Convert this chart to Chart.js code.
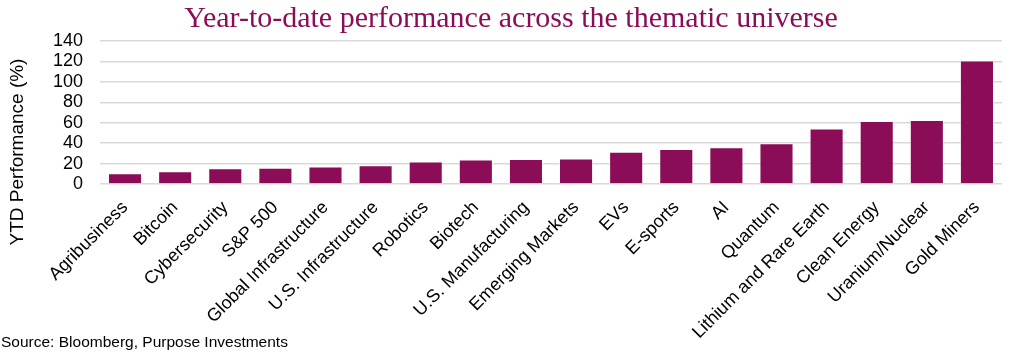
<!DOCTYPE html>
<html>
<head>
<meta charset="utf-8">
<script src="https://cdn.jsdelivr.net/npm/chart.js@4"></script>
<style>
  html, body { margin: 0; padding: 0; background: #fff; }
  #wrap { width: 1024px; height: 364px; position: relative; }
</style>
</head>
<body>
<div id="wrap"><canvas id="myChart"></canvas></div>
<script>
  // Data
  const categories = [
    'Agribusiness', 'Bitcoin', 'Cybersecurity', 'S&P 500', 'Global Infrastructure',
    'U.S. Infrastructure', 'Robotics', 'Biotech', 'U.S. Manufacturing', 'Emerging Markets',
    'EVs', 'E-sports', 'AI', 'Quantum', 'Lithium and Rare Earth',
    'Clean Energy', 'Uranium/Nuclear', 'Gold Miners'
  ];
  const ytdValues = [
    10.5, 12.5, 15.5, 15.8, 17.1, 18.4, 22.1, 24.0, 24.4, 25.0,
    31.6, 34.3, 35.9, 39.9, 54.3, 61.6, 62.6, 120.9
  ];
  const yMin = 0, yMax = 140, yStep = 20;

  const barColor = '#8B0D57';
  const sans = "'Liberation Sans', Arial, sans-serif";
  const serif = "'Liberation Serif', 'Times New Roman', serif";

  // title, y axis title and source line drawn by hand
  const extraText = {
    id: 'extraText',
    afterDraw(chart) {
      const c = chart.ctx;
      c.save();
      c.fillStyle = barColor;
      c.font = '30px ' + serif;
      c.textAlign = 'center';
      c.textBaseline = 'alphabetic';
      c.fillText('Year-to-date performance across the thematic universe', 511, 27);
      c.restore();

      c.save();
      c.fillStyle = '#000';
      c.font = '19px ' + sans;
      c.translate(18, 152);
      c.rotate(-Math.PI / 2);
      c.textAlign = 'center';
      c.textBaseline = 'middle';
      c.fillText('YTD Performance (%)', 0, 0);
      c.restore();

      c.save();
      c.fillStyle = '#000';
      c.font = '15.5px ' + sans;
      c.textAlign = 'left';
      c.textBaseline = 'middle';
      c.fillText('Source: Bloomberg, Purpose Investments', 1, 343);
      c.restore();
    }
  };

  new Chart(document.getElementById('myChart'), {
    type: 'bar',
    data: {
      labels: categories,
      datasets: [{
        label: 'YTD Performance (%)',
        data: ytdValues,
        backgroundColor: barColor,
        borderColor: 'rgba(255,255,255,0.5)',
        borderWidth: 1,
        categoryPercentage: 0.68,
        barPercentage: 1.0
      }]
    },
    options: {
      responsive: true,
      maintainAspectRatio: false,
      animation: false,
      layout: { padding: { left: 0, right: 22, top: 41, bottom: 0 } },
      plugins: {
        legend: { display: false },
        tooltip: { enabled: false },
        title: { display: false }
      },
      scales: {
        x: {
          grid: { display: false },
          border: { display: false },
          ticks: {
            autoSkip: false,
            maxRotation: 45,
            minRotation: 45,
            color: '#000',
            padding: 5,
            font: { family: sans, size: 18 }
          },
          afterFit(scale) { scale.height = 180; }
        },
        y: {
          min: yMin,
          max: yMax,
          grid: { color: '#D9D9D9', lineWidth: 1.5, drawTicks: false },
          border: { display: false },
          ticks: {
            stepSize: yStep,
            autoSkip: false,
            color: '#000',
            padding: 17,
            font: { family: sans, size: 18 }
          },
          afterFit(scale) { scale.width = 100; }
        }
      }
    },
    plugins: [extraText]
  });
</script>
</body>
</html>
